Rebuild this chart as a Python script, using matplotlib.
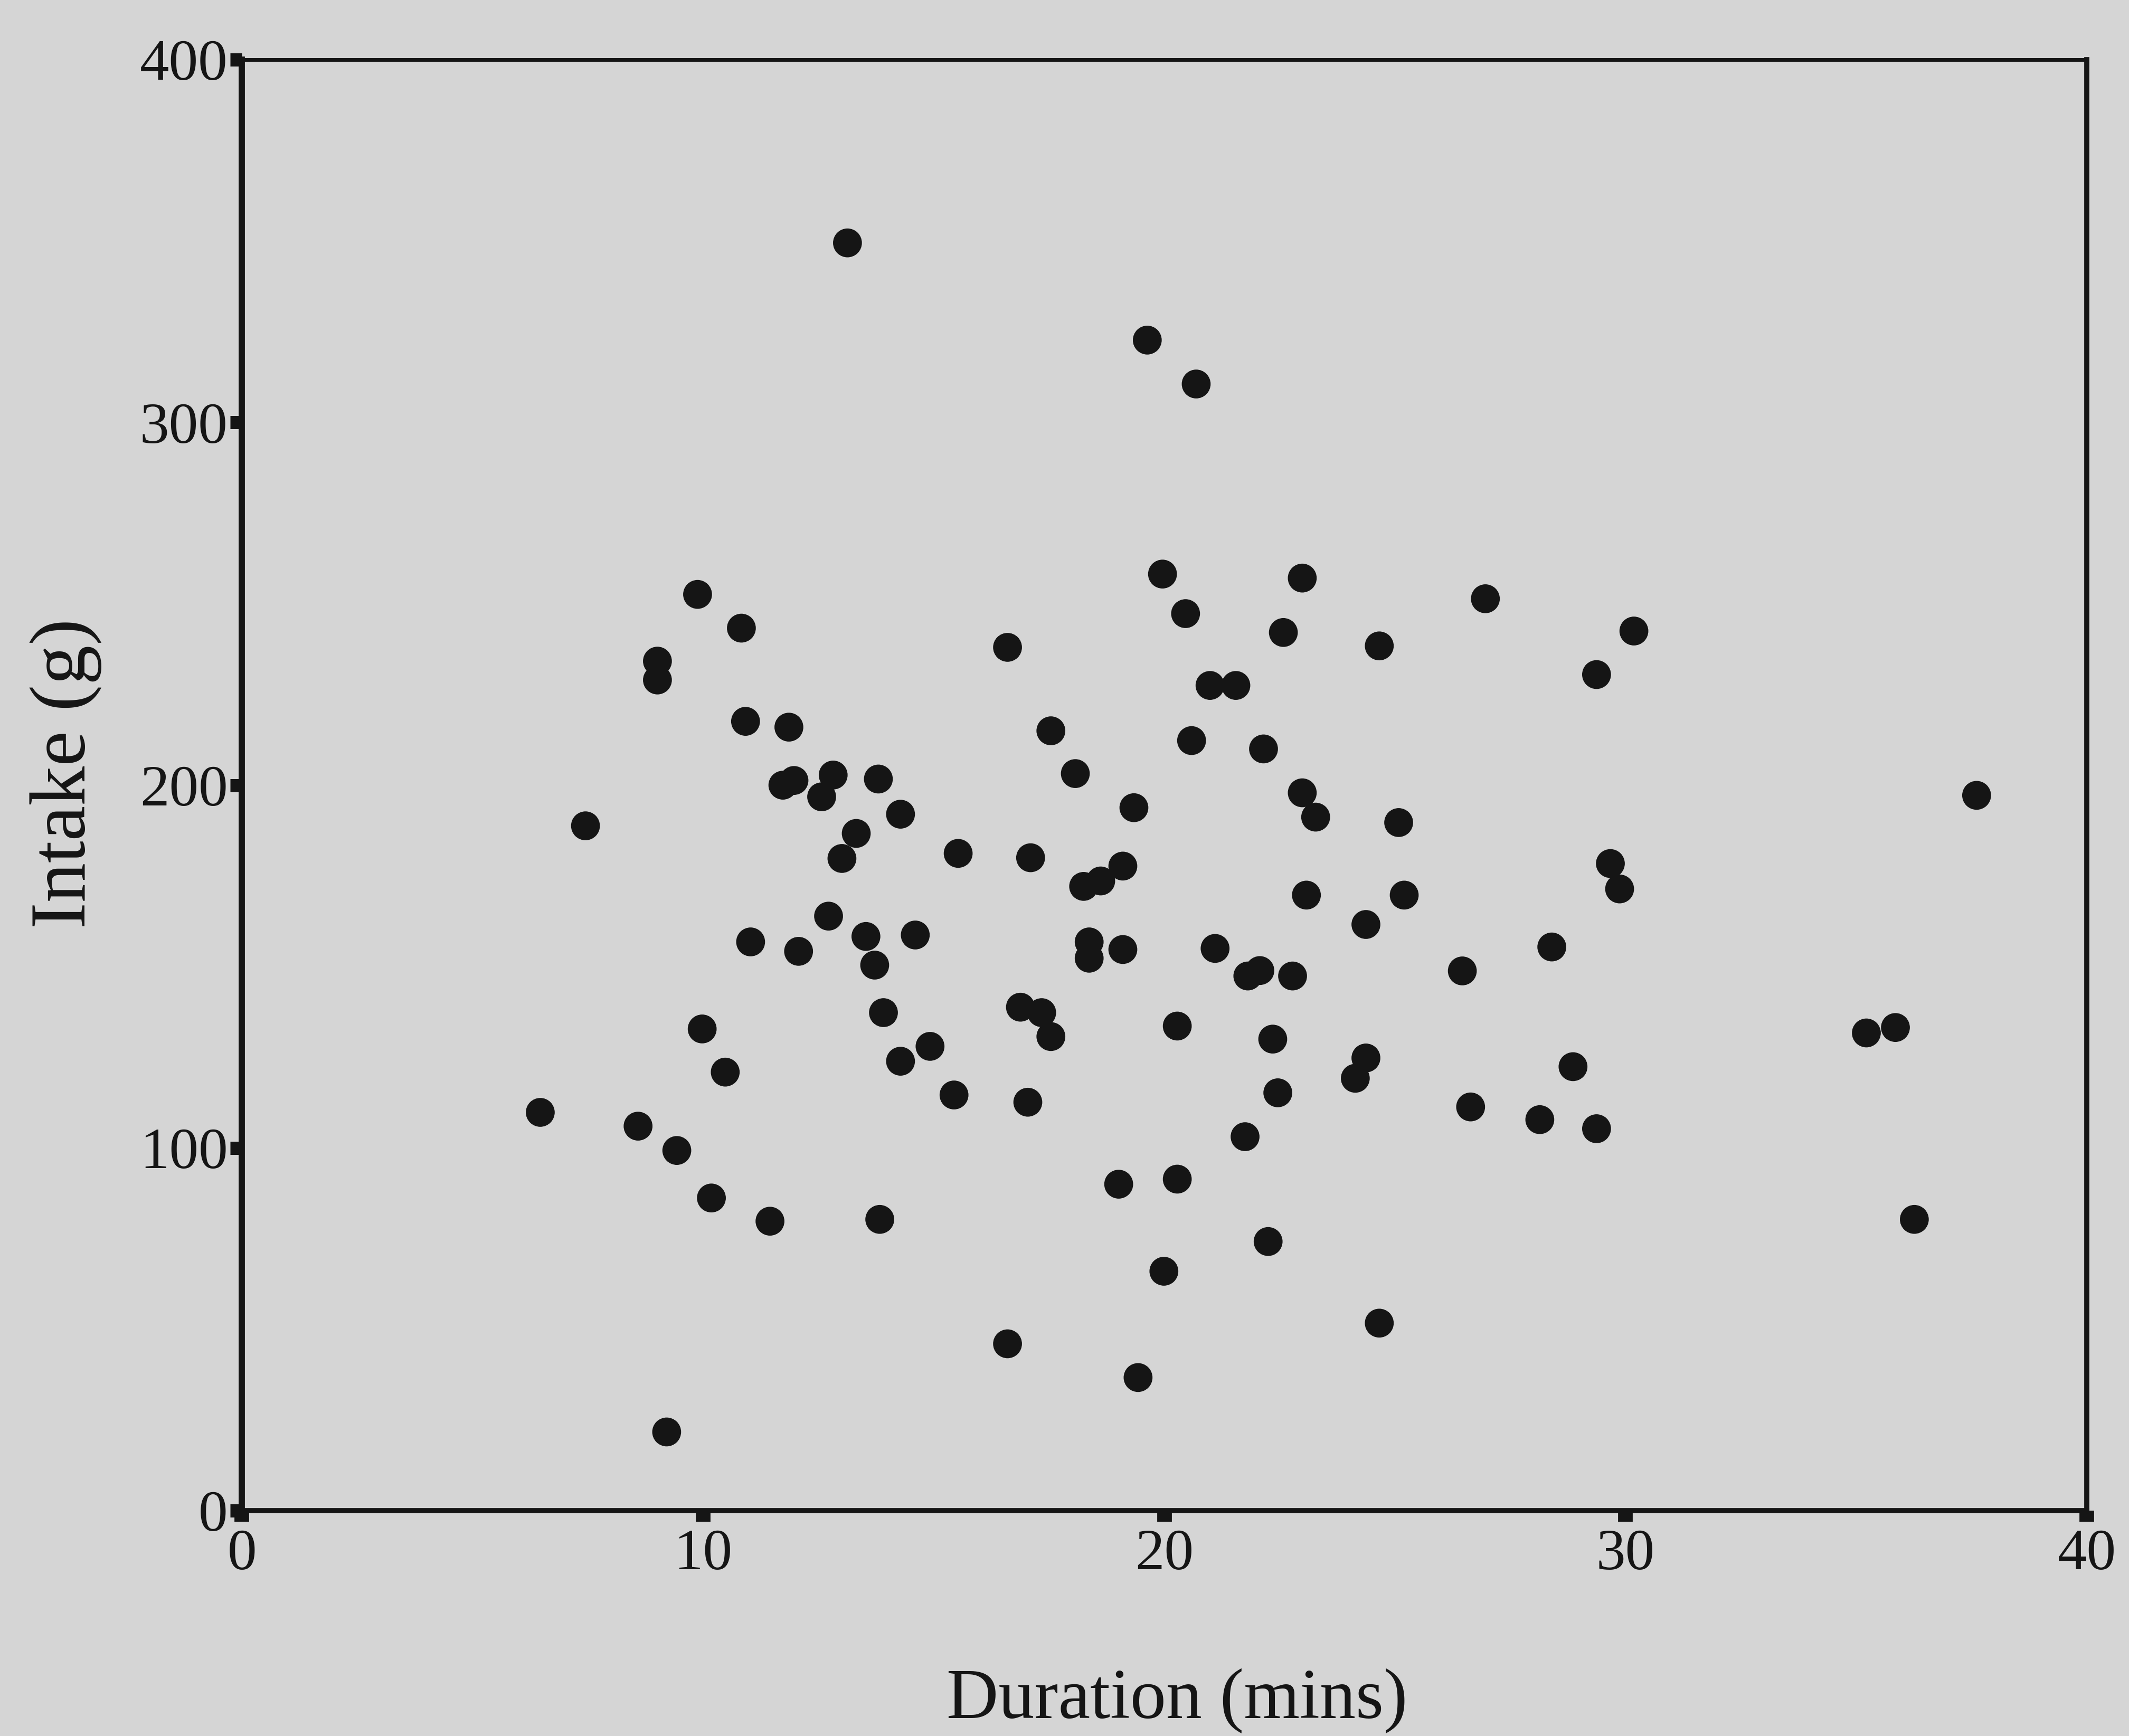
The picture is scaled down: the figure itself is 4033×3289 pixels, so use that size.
import matplotlib
matplotlib.use("Agg")
import matplotlib.pyplot as plt

# Data
duration = [13.13, 19.63, 20.69, 9.88, 19.96, 22.99, 26.96, 10.83, 20.46, 22.58,
            30.18, 16.60, 24.66, 9.01, 9.01, 29.37, 20.99, 21.55, 10.92, 11.86,
            17.54, 20.59, 22.15, 18.07, 12.82, 13.80, 11.73, 11.97, 12.57, 22.99,
            37.61, 7.45, 13.32, 14.28, 19.34, 23.28, 25.08, 13.01, 15.53, 17.10,
            19.10, 18.25, 18.62, 29.67, 29.87, 23.08, 25.20, 12.72, 24.37, 11.03,
            12.07, 13.53, 14.60, 18.37, 18.37, 19.10, 21.10, 28.40, 13.72, 21.81,
            22.07, 22.78, 26.46, 16.88, 17.34, 13.91, 9.98, 17.54, 20.28, 22.35,
            35.22, 35.85, 14.92, 24.37, 14.28, 10.48, 28.86, 24.14, 15.44, 22.46,
            17.04, 6.47, 26.64, 28.14, 8.59, 29.37, 21.75, 9.43, 20.28, 19.01,
            10.18, 11.45, 13.83, 36.26, 22.25, 19.99, 24.66, 16.60, 19.43, 9.21]
intake = [349.5, 322.7, 310.6, 252.6, 258.2, 257.1, 251.4, 243.3, 247.3, 242.1,
          242.5, 238.0, 238.4, 234.2, 229.0, 230.5, 227.5, 227.5, 217.6, 216.0,
          215.0, 212.3, 210.0, 203.2, 202.8, 201.7, 200.0, 201.3, 196.8, 197.9,
          197.2, 188.8, 186.7, 192.0, 193.8, 191.2, 189.7, 179.8, 181.2, 180.0,
          177.7, 172.1, 173.6, 178.4, 171.4, 169.7, 169.7, 163.9, 161.6, 156.8,
          154.2, 158.3, 158.7, 156.8, 152.3, 154.7, 155.0, 155.4, 150.4, 147.4,
          148.9, 147.4, 148.8, 138.8, 137.3, 137.3, 132.8, 130.7, 133.6, 130.0,
          131.7, 133.2, 128.0, 124.8, 123.9, 120.9, 122.4, 119.2, 114.6, 115.2,
          112.6, 109.8, 111.3, 107.8, 106.0, 105.3, 103.1, 99.3, 91.4, 90.0,
          86.2, 79.8, 80.3, 80.3, 74.2, 66.0, 51.7, 46.0, 36.7, 21.7]
x_ticks = [0, 10, 20, 30, 40]
y_ticks = [0, 100, 200, 300, 400]
x_label = "Duration (mins)"
y_label = "Intake (g)"

bg = "#d5d5d5"
ink = "#151515"
plt.rcParams["font.family"] = ["Liberation Serif", "DejaVu Serif"]

fig = plt.figure(figsize=(40.33, 32.89), dpi=100, facecolor=bg)
ax = fig.add_axes([0.1136, 0.1298, 0.8666, 0.8358])
ax.set_facecolor(bg)

ax.scatter(duration, intake, s=1550, color=ink, edgecolors="none", zorder=3, clip_on=False)

ax.set_xlim(0, 40)
ax.set_ylim(0, 400)
ax.set_xticks(x_ticks)
ax.set_yticks(y_ticks)
ax.set_xticklabels([str(t) for t in x_ticks])
ax.set_yticklabels([str(t) for t in y_ticks])

for side, lw in [("left", 8.5), ("bottom", 7), ("top", 5), ("right", 7)]:
    ax.spines[side].set_linewidth(lw)
    ax.spines[side].set_color(ink)

ax.tick_params(axis="x", direction="out", length=15, width=20, color=ink,
               labelsize=80, labelcolor=ink, pad=10)
ax.tick_params(axis="y", direction="out", length=16, width=18, color=ink,
               labelsize=80, labelcolor=ink, pad=3)

ax.set_xlabel(x_label, fontsize=98, color=ink, labelpad=118)
ax.xaxis.label.set_x(0.507)
ax.set_ylabel(y_label, fontsize=108, color=ink, labelpad=52)
ax.yaxis.label.set_y(0.508)

fig.savefig("out.png", dpi=100, facecolor=bg)
